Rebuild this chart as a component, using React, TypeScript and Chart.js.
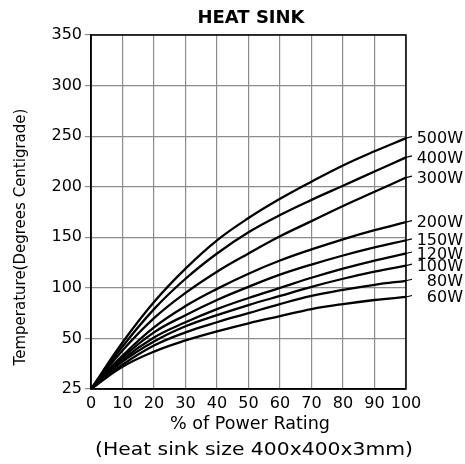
import React, { useEffect, useRef } from "react";
import { Chart, registerables } from "chart.js";

Chart.register(...registerables);

const percent = [0, 10, 20, 30, 40, 50, 60, 70, 80, 90, 100];
const seriesNames = ["500W", "400W", "300W", "200W", "150W", "120W", "100W", "80W", "60W"];
// values in axis units (bottom of axis = ambient, labelled 25)
const w500 = [0, 46, 86, 119, 147, 169, 188, 205, 221, 235, 248];
const w400 = [0, 42, 79, 109, 134, 155, 172, 187, 201, 215, 229];
const w300 = [0, 38, 70, 95, 116, 134, 151, 166, 181, 195, 209];
const w200 = [0, 33, 61, 82, 99, 114, 127, 138, 148, 157, 165];
const w150 = [0, 31, 56, 73, 88, 101, 113, 123, 132, 140, 147];
const w120 = [0, 29, 51, 66, 79, 90, 100, 110, 119, 127, 134];
const w100 = [0, 27, 47, 62, 73, 83, 92, 101, 109, 116, 122];
const w80 = [0, 24, 43, 56, 66, 75, 84, 92, 98, 103, 107];
const w60 = [0, 22, 37, 48, 57, 65, 72, 79, 84, 88, 91];
const seriesValues = [w500, w400, w300, w200, w150, w120, w100, w80, w60];
const yTicks = [0, 50, 100, 150, 200, 250, 300, 350];
const yTickLabels = ["25", "50", "100", "150", "200", "250", "300", "350"];
const chartTitle = "HEAT SINK";
const xTitle1 = "% of Power Rating";
const xTitle2 = "(Heat sink size 400x400x3mm)";
const yTitle = "Temperature(Degrees Centigrade)";

const FONT = "'DejaVu Sans', 'Liberation Sans', Arial, sans-serif";

export default function App() {
  const ref = useRef<HTMLCanvasElement | null>(null);
  useEffect(() => {
    const canvas = ref.current;
    if (!canvas) return;
    const drawStretched = (ctx: CanvasRenderingContext2D, text: string, cx: number, cy: number, width: number) => {
      const w = ctx.measureText(text).width;
      const sx = width / w;
      ctx.save();
      ctx.translate(cx, cy);
      ctx.scale(sx, 1);
      ctx.fillText(text, 0, 0);
      ctx.restore();
    };
    const decor = {
      id: "decor",
      afterDraw(chart: any) {
        const ctx = chart.ctx;
        const a = chart.chartArea;
        const ys = chart.scales.y;
        ctx.save();
        ctx.strokeStyle = "#000";
        ctx.lineWidth = 1.5;
        ctx.strokeRect(a.left, a.top, a.right - a.left, a.bottom - a.top);
        ctx.fillStyle = "#000";
        ctx.textAlign = "center";
        ctx.textBaseline = "middle";
        ctx.font = `bold 18px ${FONT}`;
        ctx.fillText(chartTitle, 251, 18);
        ctx.font = `17px ${FONT}`;
        drawStretched(ctx, xTitle1, 250, 425, 160);
        ctx.font = `18px ${FONT}`;
        drawStretched(ctx, xTitle2, 254, 450, 318);
        ctx.save();
        ctx.translate(21, 237);
        ctx.rotate(-Math.PI / 2);
        ctx.font = `15px ${FONT}`;
        ctx.fillText(yTitle, 0, 0);
        ctx.restore();
        ctx.font = `16px ${FONT}`;
        ctx.textAlign = "right";
        seriesNames.forEach((name, i) => {
          const vals = seriesValues[i];
          const yEnd = ys.getPixelForValue(vals[vals.length - 1]);
          ctx.lineWidth = 1.2;
          ctx.beginPath();
          ctx.moveTo(a.right, yEnd);
          ctx.lineTo(a.right + 6, yEnd - 1.5);
          ctx.stroke();
          ctx.fillText(name, 463, yEnd + 1);
        });
        ctx.restore();
      },
    };
    const chart = new Chart(canvas, {
      type: "line",
      data: {
        datasets: seriesNames.map((name, i) => ({
          label: name,
          data: percent.map((p, j) => ({ x: p, y: seriesValues[i][j] })),
          borderColor: "#000",
          borderWidth: 2.3,
          pointRadius: 0,
          fill: false,
          tension: 0.4,
        })),
      },
      options: {
        animation: false,
        responsive: false,
        layout: { padding: { top: 35, right: 59, left: 0, bottom: 0 } },
        plugins: { legend: { display: false }, title: { display: false }, tooltip: { enabled: false } },
        scales: {
          x: {
            type: "linear",
            min: 0,
            max: 100,
            afterFit: (s: any) => { s.height = 75; },
            afterBuildTicks: (s: any) => { s.ticks = percent.map((v) => ({ value: v })); },
            grid: { color: "#8c8c8c", lineWidth: 1.2, drawTicks: false },
            border: { color: "#000", width: 1.5 },
            ticks: { color: "#000", font: { size: 16, family: FONT }, padding: 5, maxRotation: 0, autoSkip: false },
          },
          y: {
            type: "linear",
            min: 0,
            max: 350,
            afterFit: (s: any) => { s.width = 91; },
            afterBuildTicks: (s: any) => { s.ticks = yTicks.map((v) => ({ value: v })); },
            grid: { color: "#8c8c8c", lineWidth: 1.2, drawTicks: true, tickLength: 6 },
            border: { color: "#000", width: 1.5 },
            ticks: {
              color: "#000",
              font: { size: 16, family: FONT },
              padding: 3,
              autoSkip: false,
              callback: (v: any) => yTickLabels[yTicks.indexOf(Number(v))] ?? "",
            },
          },
        },
      },
      plugins: [decor],
    });
    return () => chart.destroy();
  }, []);
  return (
    <div style={{ position: "absolute", left: 0, top: 0, width: 465, height: 464, background: "#fff" }}>
      <canvas ref={ref} width={465} height={464} style={{ display: "block" }} />
    </div>
  );
}
